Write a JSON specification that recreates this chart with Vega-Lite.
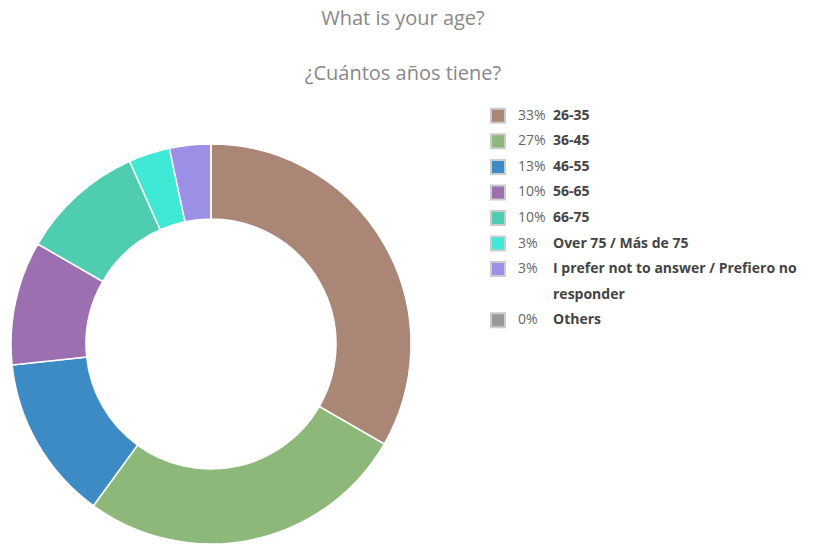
{
  "$schema": "https://vega.github.io/schema/vega-lite/v6.json",
  "padding": {"left": 8, "top": 8, "right": 0, "bottom": 0},
  "background": "white",
  "title": {
    "text": ["What is your age?", "¿Cuántos años tiene?"],
    "lineHeight": 55,
    "fontSize": 20,
    "font": "Open Sans",
    "fontWeight": "normal",
    "color": "#888888",
    "anchor": "middle",
    "offset": 21
  },
  "spacing": 73,
  "config": {"view": {"stroke": null}},
  "datasets": {
    "ages": [
      {"name": "26-35", "pct": "33%", "count": 10, "ord": 1},
      {"name": "36-45", "pct": "27%", "count": 8, "ord": 2},
      {"name": "46-55", "pct": "13%", "count": 4, "ord": 3},
      {"name": "56-65", "pct": "10%", "count": 3, "ord": 4},
      {"name": "66-75", "pct": "10%", "count": 3, "ord": 5},
      {"name": "Over 75 / Más de 75", "pct": "3%", "count": 1, "ord": 6},
      {"name": "I prefer not to answer / Prefiero no\nresponder", "pct": "3%", "count": 1, "ord": 7},
      {"name": "Others", "pct": "0%", "count": 0, "ord": 8}
    ]
  },
  "hconcat": [
    {
      "width": 400,
      "height": 400,
      "data": {"name": "ages"},
      "mark": {"type": "arc", "innerRadius": 125, "outerRadius": 200, "stroke": "white", "strokeWidth": 1.5},
      "encoding": {
        "theta": {"field": "count", "type": "quantitative", "stack": true},
        "order": {"field": "ord", "type": "quantitative"},
        "color": {
          "field": "name",
          "type": "nominal",
          "legend": null,
          "scale": {
            "domain": ["26-35", "36-45", "46-55", "56-65", "66-75", "Over 75 / Más de 75", "I prefer not to answer / Prefiero no\nresponder", "Others"],
            "range": ["#a98675", "#8db87a", "#3d8bc4", "#9b6fb0", "#4ecdb0", "#40e8d6", "#9b8fe6", "#999999"]
          }
        }
      }
    },
    {
      "width": 308,
      "height": 400,
      "data": {"name": "ages"},
      "encoding": {
        "y": {
          "field": "name",
          "type": "nominal",
          "axis": null,
          "scale": {
            "type": "point",
            "padding": 0.5,
            "range": [-41, 189],
            "domain": ["26-35", "36-45", "46-55", "56-65", "66-75", "Over 75 / Más de 75", "I prefer not to answer / Prefiero no\nresponder", " ", "Others"]
          }
        }
      },
      "layer": [
        {
          "mark": {"type": "square", "size": 196, "opacity": 1, "stroke": "#cccccc", "strokeWidth": 2},
          "encoding": {
            "x": {"value": 8},
            "color": {
              "field": "name",
              "type": "nominal",
              "legend": null,
              "scale": {
                "domain": ["26-35", "36-45", "46-55", "56-65", "66-75", "Over 75 / Más de 75", "I prefer not to answer / Prefiero no\nresponder", "Others"],
                "range": ["#a98675", "#8db87a", "#3d8bc4", "#9b6fb0", "#4ecdb0", "#40e8d6", "#9b8fe6", "#999999"]
              }
            }
          }
        },
        {
          "mark": {"type": "text", "align": "left", "baseline": "middle", "font": "Open Sans", "fontSize": 14, "color": "#666666"},
          "encoding": {
            "x": {"value": 28},
            "text": {"field": "pct"}
          }
        },
        {
          "mark": {"type": "text", "align": "left", "baseline": "top", "dy": -7, "font": "Open Sans", "fontSize": 14, "fontWeight": "bold", "color": "#444444", "lineBreak": "\n", "lineHeight": 25.5},
          "encoding": {
            "x": {"value": 63},
            "text": {"field": "name"}
          }
        }
      ]
    }
  ]
}
